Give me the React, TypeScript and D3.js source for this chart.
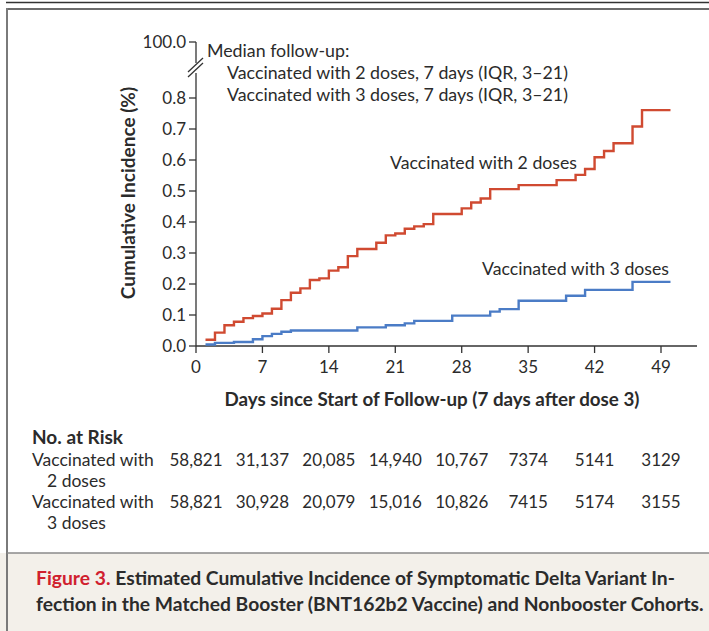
import React from 'react';
import * as d3 from 'd3';

const twoDoseDays = [1, 2, 3, 4, 5, 6, 7, 8, 9, 10, 11, 12, 13, 14, 15, 16, 17, 19, 20, 21, 22, 23, 24, 25, 28, 29, 30, 31, 34, 38, 40, 41, 42, 43, 44, 46, 47];
const twoDoseValues = [0.02, 0.043, 0.067, 0.078, 0.09, 0.097, 0.105, 0.12, 0.148, 0.172, 0.186, 0.213, 0.218, 0.243, 0.254, 0.29, 0.313, 0.333, 0.357, 0.363, 0.378, 0.386, 0.393, 0.426, 0.444, 0.463, 0.476, 0.506, 0.519, 0.535, 0.552, 0.571, 0.609, 0.629, 0.654, 0.708, 0.761];
const threeDoseDays = [1, 2, 4, 6, 7, 8, 9, 10, 17, 20, 22, 23, 27, 31, 32, 34, 39, 41, 46];
const threeDoseValues = [0.005, 0.01, 0.013, 0.022, 0.032, 0.039, 0.046, 0.05, 0.06, 0.067, 0.073, 0.081, 0.098, 0.111, 0.119, 0.146, 0.162, 0.181, 0.207];
const lastDay = 50;

const xTicks = [0, 7, 14, 21, 28, 35, 42, 49];
const yTicks = [0, 0.1, 0.2, 0.3, 0.4, 0.5, 0.6, 0.7, 0.8];
const riskTwoDoses = ['58,821', '31,137', '20,085', '14,940', '10,767', '7374', '5141', '3129'];
const riskThreeDoses = ['58,821', '30,928', '20,079', '15,016', '10,826', '7415', '5174', '3155'];

const FONT = "Lato, 'Open Sans', sans-serif";
const TXT = '#2b2b2b';
const RED = '#d04a31';
const BLUE = '#4b7cc6';

export default function App() {
  const x = d3.scaleLinear().domain([0, 49]).range([196, 661]);
  const y = d3.scaleLinear().domain([0, 0.8]).range([346, 98]);
  const line = d3
    .line<[number, number]>()
    .x((d) => x(d[0]))
    .y((d) => y(d[1]))
    .curve(d3.curveStepAfter);

  const pts = (days: number[], vals: number[]): [number, number][] => {
    const p: [number, number][] = days.map((d, i) => [d, vals[i]]);
    p.push([lastDay, vals[vals.length - 1]]);
    return p;
  };

  const axisX = x(0);
  return (
    <svg
      width={709}
      height={631}
      style={{ position: 'absolute', left: 0, top: 0, background: '#fff' }}
      fontFamily={FONT}
    >
      {/* frame */}
      <line x1={6} x2={709} y1={2.5} y2={2.5} stroke="#333" strokeWidth={1.5} />
      <rect x={0} y={553} width={709} height={78} fill="#f3f0ea" />
      <line x1={7} x2={709} y1={9} y2={9} stroke="#6b6b6b" strokeWidth={2} />
      <line x1={7} x2={7} y1={8} y2={631} stroke="#7a7a7a" strokeWidth={2} />
      <line x1={7} x2={709} y1={553} y2={553} stroke="#8a8a8a" strokeWidth={1.5} />

      {/* y axis with break */}
      <g stroke="#333" strokeWidth={1.3}>
        <line x1={axisX} x2={axisX} y1={42} y2={63} />
        <line x1={axisX} x2={axisX} y1={73} y2={346} />
        <line x1={axisX - 8} x2={axisX + 7} y1={72} y2={58} />
        <line x1={axisX - 8} x2={axisX + 7} y1={77} y2={63} />
        <line x1={axisX - 7} x2={axisX} y1={42} y2={42} />
        <line x1={axisX} x2={697} y1={346} y2={346} />
      </g>
      <text x={186} y={48} fontSize={17} fill={TXT} textAnchor="end">100.0</text>
      {yTicks.map((t) => (
        <g key={'y' + t}>
          <line x1={axisX - 7} x2={axisX} y1={y(t)} y2={y(t)} stroke="#333" strokeWidth={1.3} />
          <text x={186} y={y(t) + 6} fontSize={17} fill={TXT} textAnchor="end">
            {t.toFixed(1)}
          </text>
        </g>
      ))}
      {xTicks.map((t) => (
        <g key={'x' + t}>
          <line x1={x(t)} x2={x(t)} y1={346} y2={353} stroke="#333" strokeWidth={1.3} />
          <text x={x(t)} y={373} fontSize={17} fill={TXT} textAnchor="middle">
            {t}
          </text>
        </g>
      ))}

      {/* axis titles */}
      <text x={432} y={406} fontSize={18.8} fontWeight={700} fill={TXT} textAnchor="middle">
        Days since Start of Follow-up (7 days after dose 3)
      </text>
      <text
        transform="translate(135,193) rotate(-90)"
        fontSize={19}
        fontWeight={700}
        fill={TXT}
        textAnchor="middle"
      >
        Cumulative Incidence (%)
      </text>

      {/* curves */}
      <path d={line(pts(threeDoseDays, threeDoseValues)) || ''} fill="none" stroke={BLUE} strokeWidth={2.4} />
      <path d={line(pts(twoDoseDays, twoDoseValues)) || ''} fill="none" stroke={RED} strokeWidth={2.4} />

      {/* annotations */}
      <text x={207} y={57} fontSize={17.8} fill={TXT}>Median follow-up:</text>
      <text x={227} y={79} fontSize={17.8} fill={TXT}>Vaccinated with 2 doses, 7 days (IQR, 3–21)</text>
      <text x={227} y={101} fontSize={17.8} fill={TXT}>Vaccinated with 3 doses, 7 days (IQR, 3–21)</text>
      <text x={577} y={169} fontSize={17.7} fill={TXT} textAnchor="end">Vaccinated with 2 doses</text>
      <text x={669} y={275} fontSize={17.7} fill={TXT} textAnchor="end">Vaccinated with 3 doses</text>

      {/* number at risk */}
      <text x={32} y={444} fontSize={19} fontWeight={700} fill={TXT}>No. at Risk</text>
      <text x={32} y={466} fontSize={17.5} fill={TXT}>Vaccinated with</text>
      <text x={47} y={487} fontSize={17.5} fill={TXT}>2 doses</text>
      <text x={32} y={508} fontSize={17.5} fill={TXT}>Vaccinated with</text>
      <text x={47} y={529} fontSize={17.5} fill={TXT}>3 doses</text>
      {riskTwoDoses.map((v, i) => (
        <text key={'r2' + i} x={x(xTicks[i])} y={466} fontSize={17} fill={TXT} textAnchor="middle">
          {v}
        </text>
      ))}
      {riskThreeDoses.map((v, i) => (
        <text key={'r3' + i} x={x(xTicks[i])} y={508} fontSize={17} fill={TXT} textAnchor="middle">
          {v}
        </text>
      ))}

      {/* caption */}
      <text x={36} y={585} fontSize={19.3} fontWeight={700} fill="#2b2b2b">
        <tspan fill="#d0202e">Figure 3.</tspan> Estimated Cumulative Incidence of Symptomatic Delta Variant In-
      </text>
      <text x={36} y={611} fontSize={19.3} fontWeight={700} fill="#2b2b2b">
        fection in the Matched Booster (BNT162b2 Vaccine) and Nonbooster Cohorts.
      </text>
    </svg>
  );
}
